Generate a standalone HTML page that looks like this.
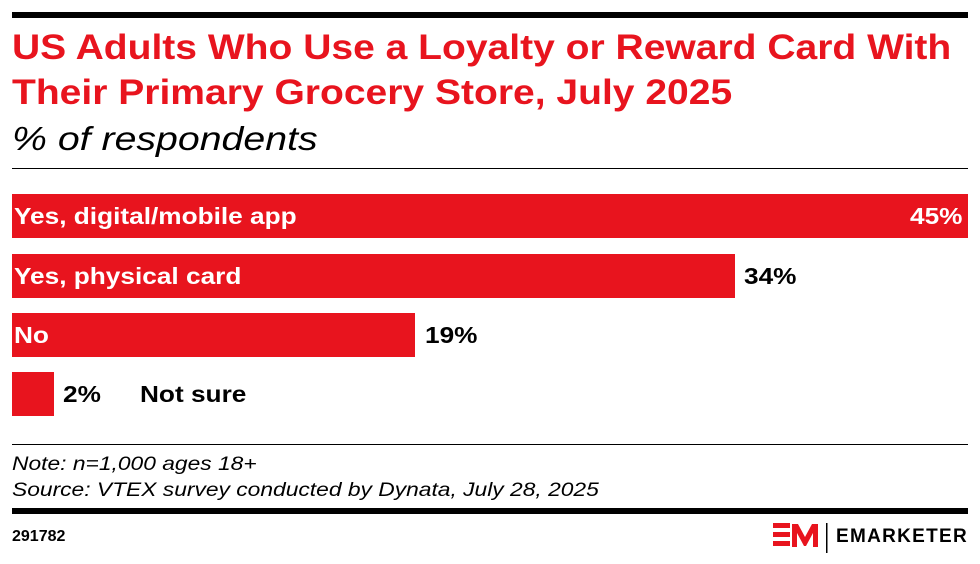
<!DOCTYPE html>
<html><head><style>
body{margin:0;width:980px;height:564px;background:#fff;position:relative;font-family:"Liberation Sans",sans-serif;overflow:hidden}
.a{position:absolute;white-space:nowrap}
.bar{position:absolute;left:12px;height:44px;background:#e8141e}
.lbl{position:absolute;font-size:23px;font-weight:bold;line-height:44px;white-space:nowrap;transform:scaleX(1.14);transform-origin:left center}
</style></head><body>
<div class="a" style="left:12px;top:12px;width:956px;height:6px;background:#000"></div>
<div class="a" style="left:12px;top:25px;font-size:35px;font-weight:bold;color:#e8141e;line-height:45px;transform:scaleX(1.115);transform-origin:left top">US Adults Who Use a Loyalty or Reward Card With<br>Their Primary Grocery Store, July 2025</div>
<div class="a" style="left:12px;top:119px;font-size:33px;font-style:italic;line-height:40px;transform:scaleX(1.19);transform-origin:left top">% of respondents</div>
<div class="a" style="left:12px;top:168px;width:956px;height:1px;background:#000"></div>

<div class="bar" style="top:194px;width:956px"></div>
<div class="lbl" style="left:14px;top:194px;color:#fff">Yes, digital/mobile app</div>
<div class="lbl" style="left:910px;top:194px;color:#fff">45%</div>

<div class="bar" style="top:254px;width:723px"></div>
<div class="lbl" style="left:14px;top:254px;color:#fff">Yes, physical card</div>
<div class="lbl" style="left:744px;top:254px">34%</div>

<div class="bar" style="top:313px;width:403px"></div>
<div class="lbl" style="left:14px;top:313px;color:#fff">No</div>
<div class="lbl" style="left:425px;top:313px">19%</div>

<div class="bar" style="top:372px;width:42px"></div>
<div class="lbl" style="left:63px;top:372px">2%</div>
<div class="lbl" style="left:140px;top:372px">Not sure</div>

<div class="a" style="left:12px;top:444px;width:956px;height:1px;background:#000"></div>
<div class="a" style="left:12px;top:452px;font-size:19px;font-style:italic;line-height:26px;transform:scaleX(1.2);transform-origin:left top">Note: n=1,000 ages 18+<br>Source: VTEX survey conducted by Dynata, July 28, 2025</div>
<div class="a" style="left:12px;top:508px;width:956px;height:6px;background:#000"></div>
<div class="a" style="left:12px;top:528px;font-size:16px;font-weight:bold">291782</div>
<svg class="a" style="left:770px;top:520px" width="60" height="34">
<rect x="3" y="3" width="17" height="5" fill="#e8141e"/><rect x="3" y="12" width="17" height="5" fill="#e8141e"/><rect x="3" y="21" width="17" height="5" fill="#e8141e"/>
<polygon points="22,4 28,4 35,17 42,4 48,4 48,27 43,27 43,13 36,26 34,26 27,13 27,27 22,27" fill="#e8141e"/>
<rect x="56" y="3" width="1.5" height="30" fill="#000"/>
</svg>
<div class="a" style="left:836px;top:526px;font-size:19px;font-weight:bold;letter-spacing:1.3px">EMARKETER</div>
</body></html>
